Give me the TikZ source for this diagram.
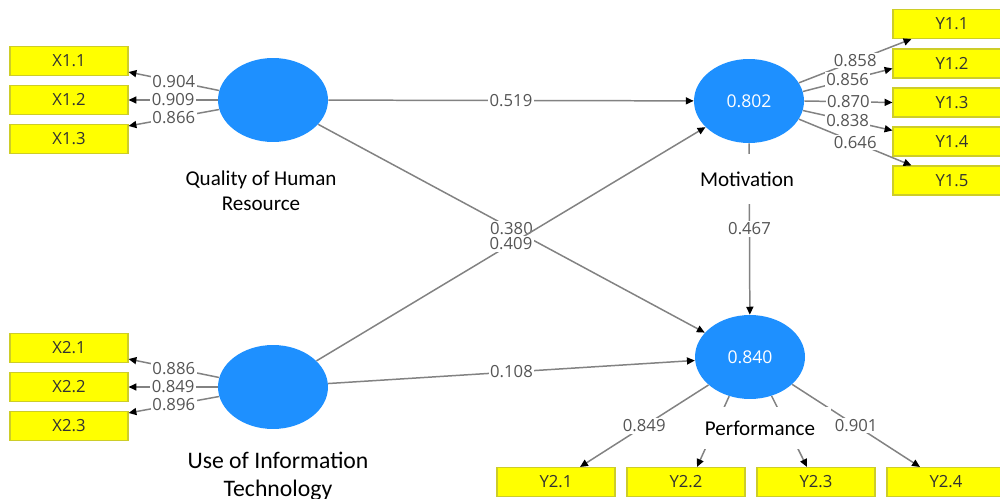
\documentclass[tikz,border=0pt]{standalone}
\usepackage{fontspec}
\setmainfont{Carlito}
\newfontfamily\numfont{Open Sans}
\usetikzlibrary{shapes.geometric,arrows.meta}
\definecolor{lvblue}{RGB}{30,144,255}
\definecolor{indfill}{RGB}{255,255,0}
\definecolor{indborder}{RGB}{205,205,40}
\definecolor{linegray}{RGB}{130,130,130}
\definecolor{numgray}{RGB}{85,85,85}
\definecolor{boxtext}{RGB}{50,50,50}
\begin{document}
\begin{tikzpicture}[x=0.02cm,y=-0.02cm,
  lv/.style={ellipse,fill=lvblue,minimum width=2.2cm,minimum height=1.68cm,inner sep=0pt,text=white,font=\numfont\fontsize{10}{12}\selectfont},
  ind/.style={rectangle,fill=indfill,draw=indborder,line width=0.6pt,minimum width=2.36cm,minimum height=0.58cm,inner sep=0pt,text=boxtext,font=\numfont\fontsize{9.5}{11}\selectfont},
  conn/.style={draw=linegray,line width=0.85pt,-{Triangle[length=4.5pt,width=4pt,color=black]}},
  wt/.style={fill=white,inner sep=0.8pt,text=numgray,font=\numfont\fontsize{9.5}{11}\selectfont},
  lab/.style={align=center,font=\fontsize{12}{14.5}\selectfont},
  bigl/.style={align=center,font=\fontsize{13.5}{16}\selectfont}]
\useasboundingbox (0,0) rectangle (1000,499);

% latent variables
\node[lv] (q) at (273,100) {};
\node[lv] (u) at (273,387) {};
\node[lv] (m) at (749,101) {0.802};
\node[lv] (p) at (750,357) {0.840};

% indicators X1
\node[ind] (x11) at (69,61) {X1.1};
\node[ind] (x12) at (69,100) {X1.2};
\node[ind] (x13) at (69,139) {X1.3};
% indicators X2
\node[ind] (x21) at (69,348) {X2.1};
\node[ind] (x22) at (69,387) {X2.2};
\node[ind] (x23) at (69,426) {X2.3};
% indicators Y1
\node[ind] (y11) at (952,24) {Y1.1};
\node[ind] (y12) at (952,63.5) {Y1.2};
\node[ind] (y13) at (952,102.5) {Y1.3};
\node[ind] (y14) at (952,141.5) {Y1.4};
\node[ind] (y15) at (952,180.5) {Y1.5};
% indicators Y2
\node[ind] (y21) at (556,482) {Y2.1};
\node[ind] (y22) at (686,482) {Y2.2};
\node[ind] (y23) at (816,482) {Y2.3};
\node[ind] (y24) at (946,482) {Y2.4};

% structural paths
\draw[conn] (q) -- node[wt]{0.519} (m);
\draw[conn] (q) -- node[wt]{0.380} (p);
\draw[conn] (u) -- node[wt]{0.409} (m);
\draw[conn] (u) -- node[wt]{0.108} (p);
\draw[conn] (m) -- node[wt]{0.467} (p);

% outer loadings X1
\draw[conn] (q.170) -- node[wt]{0.904} ([yshift=0.08cm]x11.south east);
\draw[conn] (q.180) -- node[wt]{0.909} (x12.east);
\draw[conn] (q.190) -- node[wt]{0.866} ([yshift=-0.04cm]x13.north east);
% outer loadings X2
\draw[conn] (u.170) -- node[wt]{0.886} ([yshift=0.08cm]x21.south east);
\draw[conn] (u.180) -- node[wt]{0.849} (x22.east);
\draw[conn] (u.190) -- node[wt]{0.896} ([yshift=-0.04cm]x23.north east);
% outer loadings Y1
\draw[conn] (m.20) -- node[wt]{0.858} ([xshift=0.38cm]y11.south west);
\draw[conn] (m.10) -- node[wt]{0.856} ([yshift=-0.1cm]y12.west);
\draw[conn] (m.0) -- node[wt]{0.870} (y13.west);
\draw[conn] (m.-10) -- node[wt]{0.838} ([yshift=-0.08cm]y14.north west);
\draw[conn] (m.-20) -- node[wt]{0.646} ([xshift=0.38cm]y15.north west);
% outer loadings Y2
\draw[conn] (p.214) -- node[wt]{0.849} ([xshift=0.48cm]y21.north);
\draw[conn] (p.242) -- ([xshift=0.22cm]y22.north);
\draw[conn] (p.299) -- ([xshift=-0.18cm]y23.north);
\draw[conn] (p.327) -- node[wt]{0.901} ([xshift=-0.52cm]y24.north);

% construct labels
\node[lab] (lq) at (261,191) {Quality of Human\\Resource};
\node[bigl] (lu) at (278,476) {Use of Information\\Technology};
\node[lab,fill=white,minimum height=1cm,inner xsep=2pt] (lm) at (747,179) {Motivation};
\node[lab,fill=white,minimum height=0.86cm,minimum width=2.85cm,inner sep=0pt] (lp) at (760,428) {Performance};
\end{tikzpicture}
\end{document}
